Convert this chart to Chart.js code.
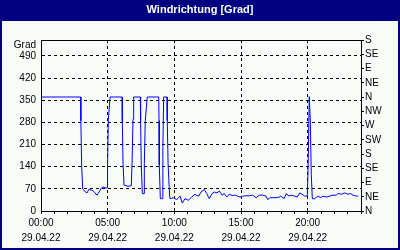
<!DOCTYPE html>
<html>
<head>
<meta charset="utf-8">
<script src="https://cdn.jsdelivr.net/npm/chart.js@4/dist/chart.umd.min.js"></script>
<style>
  body { margin: 0; background: #fff; }
  canvas { display: block; }
</style>
</head>
<body>
<canvas id="windChart" width="400" height="250"></canvas>
<script>
// time of day in hours (29.04.22)
const hours = [
  0, 2.98, 2.99, 3.05, 3.13, 3.30, 3.45, 3.60, 3.75, 3.90, 4.05, 4.20, 4.35, 4.50, 4.65, 4.80,
  4.97, 4.99, 5.05, 5.18, 6.08, 6.10, 6.15, 6.23, 6.38, 6.53, 6.77, 6.83, 6.90, 6.95,
  7.45, 7.47, 7.52, 7.60, 7.73, 7.75, 7.82, 7.97, 8.83, 8.85, 8.87, 8.95, 9.10, 9.14, 9.20,
  9.45, 9.47, 9.53, 9.65, 9.68, 9.92, 10.18, 10.43, 10.60, 10.80, 11.05, 11.30, 11.55,
  11.63, 11.83, 12.00, 12.25, 12.43, 12.62, 12.83, 13.00, 13.20, 13.37, 13.58, 13.75, 13.93,
  14.12, 14.33, 14.57, 14.75, 14.93, 15.13, 15.38, 15.62, 15.88, 16.13, 16.37, 16.63, 16.88,
  17.00, 17.18, 17.63, 17.87, 17.98, 18.23, 18.40, 18.58, 18.77, 19.03, 19.22, 19.40, 19.58,
  19.78, 19.97, 20.03, 20.12, 20.20, 20.27, 20.35, 20.53, 20.78, 20.98, 21.15, 21.40, 21.65,
  21.90, 22.15, 22.28, 22.52, 22.78, 23.03, 23.23, 23.40, 23.65, 23.78
]
// wind direction in degrees
const windDir = [
  360, 360, 285, 141, 69, 62, 57, 69, 66, 64, 57, 50, 60, 71, 76, 73,
  73, 140, 290, 360, 360, 282, 151, 81, 80, 78, 80, 151, 290, 360,
  360, 285, 146, 55, 55, 150, 285, 360, 360, 285, 145, 39, 39, 200, 360,
  360, 285, 150, 45, 39, 42, 36, 47, 25, 39, 34, 44, 53,
  50, 47, 60, 68, 55, 39, 55, 60, 57, 63, 50, 55, 44,
  53, 49, 50, 47, 44, 47, 48, 48, 50, 42, 50, 50, 47,
  36, 42, 42, 44, 47, 39, 55, 47, 50, 47, 44, 57, 53,
  47, 47, 130, 361, 280, 115, 39, 39, 47, 42, 47, 44, 47,
  50, 50, 55, 53, 57, 53, 55, 50, 47, 47
]
const gradTicks = [0, 70, 140, 210, 280, 350, 420, 490]
const compass = ['N', 'NE', 'E', 'SE', 'S', 'SW', 'W', 'NW', 'N', 'NE', 'E', 'SE', 'S']
const dateLabel = '29.04.22'
const titleText = 'Windrichtung [Grad]'
const unitLabel = 'Grad'

const font = { family: 'Liberation Sans', size: 10 }

const framePlugin = {
  id: 'frame',
  beforeDraw(chart) {
    const ctx = chart.ctx
    ctx.save()
    ctx.fillStyle = '#000080'
    ctx.fillRect(0, 0, chart.width, chart.height)
    ctx.fillStyle = '#f8fcf8'
    ctx.fillRect(2, 21, chart.width - 4, chart.height - 23)
    ctx.restore()
  },
  afterDraw(chart) {
    const a = chart.chartArea
    const ctx = chart.ctx
    ctx.save()
    ctx.strokeStyle = '#000'
    ctx.lineWidth = 1
    ctx.beginPath()
    ctx.moveTo(Math.round(a.left), Math.round(a.top) + 0.5)
    ctx.lineTo(Math.round(a.right), Math.round(a.top) + 0.5)
    ctx.stroke()
    ctx.restore()
  }
}

const data = {
  datasets: [{
    data: hours.map((h, i) => ({ x: h, y: windDir[i] })),
    borderColor: '#0000ff',
    borderWidth: 1,
    pointRadius: 0,
    tension: 0,
    yAxisID: 'y'
  }]
}

const config = {
  type: 'line',
  data: data,
  options: {
    responsive: false,
    animation: false,
    layout: { padding: 0 },
    plugins: {
      legend: { display: false },
      tooltip: { enabled: false },
      title: {
        display: true,
        text: titleText,
        color: '#fff',
        font: { family: 'Liberation Sans', size: 11, weight: 'bold' },
        padding: { top: 3, bottom: 23.8 }
      }
    },
    scales: {
      x: {
        type: 'linear',
        min: 0,
        max: 24,
        afterFit: s => { s.height = 39 },
        afterBuildTicks: s => { s.ticks = Array.from({ length: 25 }, (_, i) => ({ value: i })) },
        ticks: {
          autoSkip: false,
          maxRotation: 0,
          padding: 2,
          color: '#000',
          font: { family: 'Liberation Sans', size: 10, lineHeight: 1.5 },
          callback: v => v % 5 === 0 ? [String(v).padStart(2, '0') + ':00', dateLabel] : ''
        },
        grid: {
          color: c => (c.tick && c.tick.value % 5 === 0 && c.tick.value > 0 && c.tick.value < 24) ? '#000' : 'rgba(0,0,0,0)',
          tickColor: '#000',
          tickLength: 3
        },
        border: { color: '#000', dash: [3, 3] }
      },
      y: {
        position: 'left',
        min: 0,
        max: 540,
        afterFit: s => { s.width = 41 },
        afterBuildTicks: s => { s.ticks = gradTicks.concat([524]).map(v => ({ value: v })) },
        ticks: {
          autoSkip: false,
          padding: 5,
          color: '#000',
          font: font,
          callback: v => v === 524 ? unitLabel : v
        },
        grid: {
          drawTicks: false,
          color: c => (c.tick && c.tick.value > 0 && c.tick.value < 500) ? '#000' : 'rgba(0,0,0,0)'
        },
        border: { color: '#000', dash: [3, 3] }
      },
      y2: {
        position: 'right',
        min: 0,
        max: 540,
        afterFit: s => { s.width = 39 },
        afterBuildTicks: s => { s.ticks = compass.map((_, i) => ({ value: i * 45 })) },
        ticks: {
          autoSkip: false,
          padding: 1,
          color: '#000',
          font: font,
          callback: v => compass[Math.round(v / 45)]
        },
        grid: {
          drawOnChartArea: false,
          color: '#000',
          tickLength: 3
        },
        border: { color: '#000' }
      }
    }
  },
  plugins: [framePlugin]
}

const windChart = new Chart(
  document.getElementById('windChart'),
  config
)
</script>
</body>
</html>
